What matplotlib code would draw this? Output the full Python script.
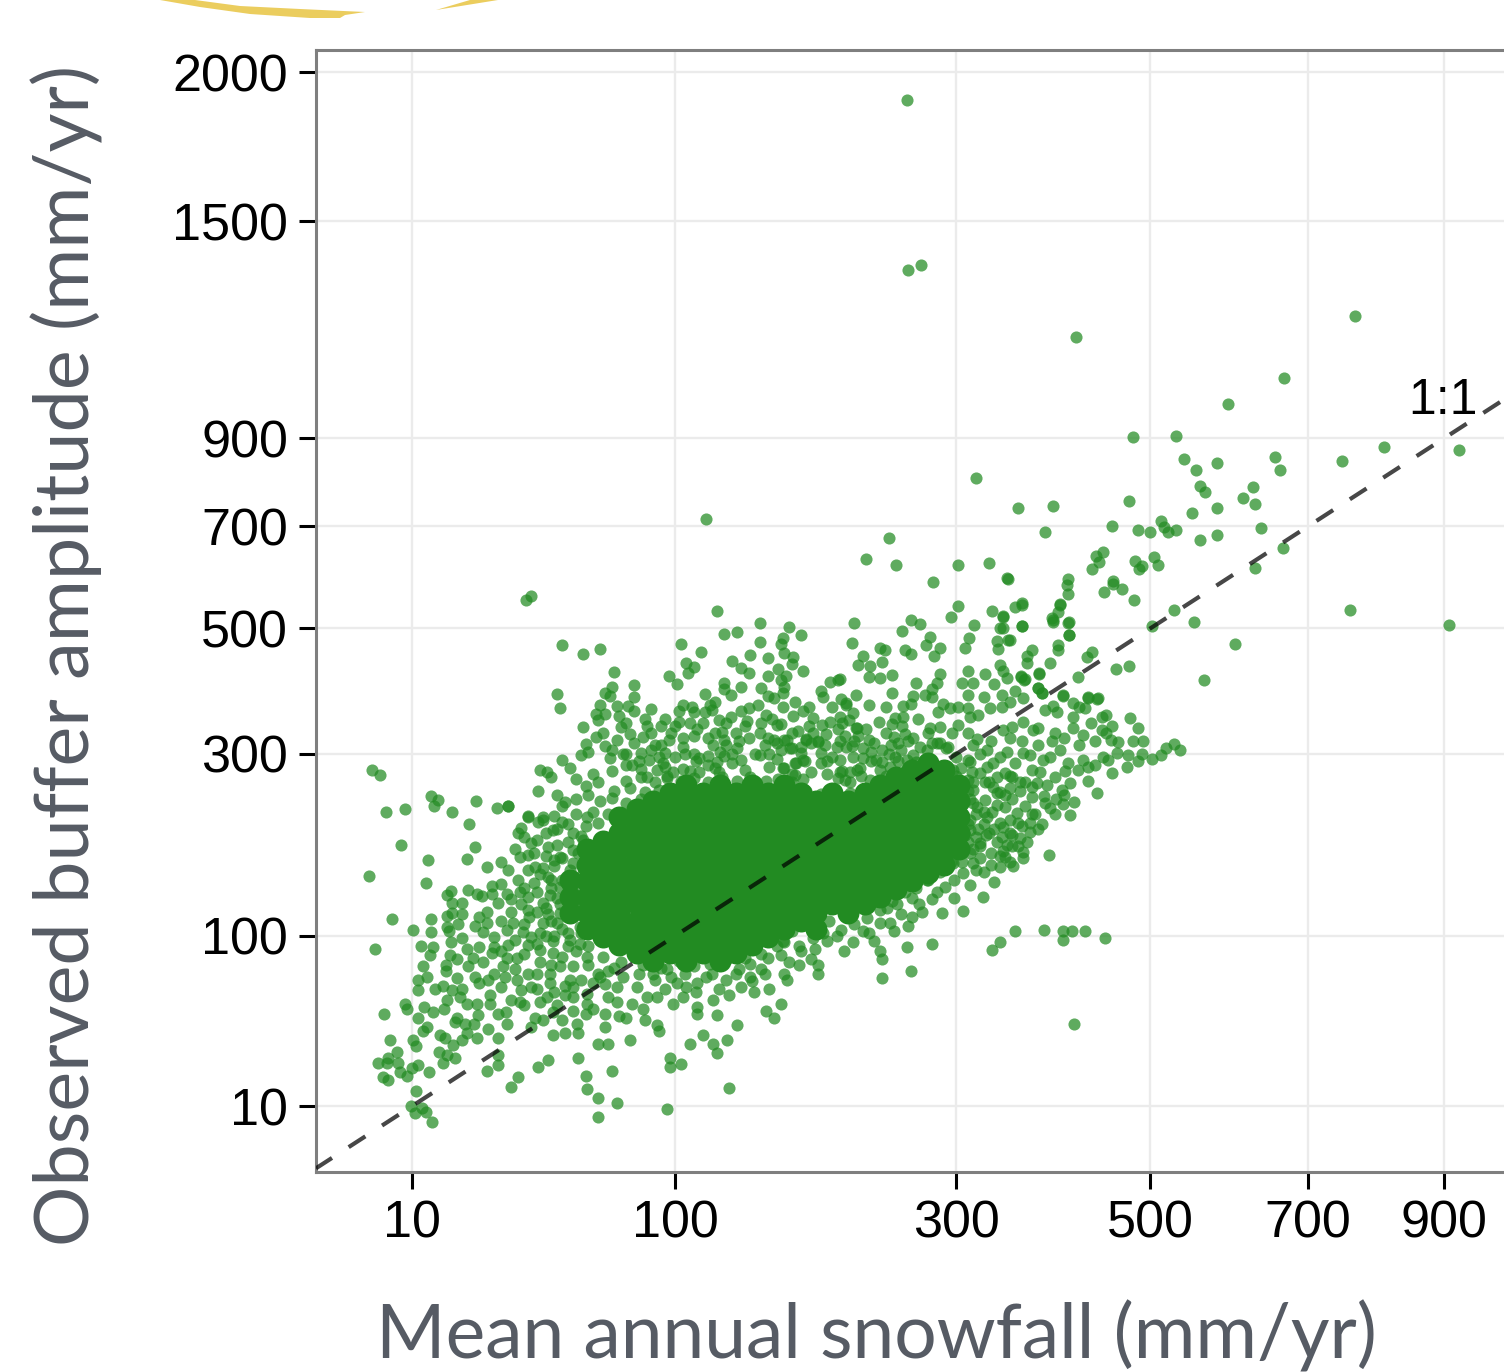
import matplotlib
matplotlib.use('Agg')
import matplotlib.pyplot as plt
import numpy as np
from matplotlib.patches import Polygon

# ticks
x_ticks = [10, 100, 300, 500, 700, 900]
y_ticks = [10, 100, 300, 500, 700, 900, 1500, 2000]

# scattered points: (snowfall, buffer amplitude)
upper_points = [
    (257, 1901), (258, 1352), (269, 1367), (417, 1161), (767, 1219), (667, 1052), (594, 985), (480, 903),
    (530, 905), (809, 879), (923, 872), (748, 847), (655, 855), (662, 825), (540, 851), (555, 825),
    (581, 841), (559, 789), (566, 775), (627, 786), (614, 762), (629, 749), (476, 755), (393, 744),
    (358, 740), (581, 740), (550, 729), (385, 688), (457, 701), (486, 693), (500, 688), (512, 712),
    (516, 699), (521, 688), (530, 693), (559, 672), (581, 682), (637, 697), (666, 655), (629, 615),
    (759, 534), (908, 506), (528, 534), (552, 512), (502, 504), (603, 472), (564, 412), (476, 435),
    (461, 430), (446, 647), (439, 638), (442, 626), (434, 612), (482, 629), (490, 618), (487, 612),
    (504, 636), (509, 620), (409, 593), (408, 581), (409, 564), (348, 593), (458, 589), (458, 583),
    (448, 568), (468, 574), (481, 552), (400, 545), (398, 530), (392, 519), (393, 512), (410, 512),
    (410, 488), (398, 471), (398, 462), (434, 458), (429, 450), (362, 547), (355, 539), (362, 504),
    (343, 521), (343, 501), (348, 480), (372, 462), (367, 452), (367, 440), (390, 440), (379, 421),
    (419, 417), (361, 417), (364, 412), (378, 399), (382, 391), (404, 386), (430, 385), (441, 383),
    (318, 807), (117, 716), (242, 676), (224, 632), (248, 620), (279, 587), (301, 620), (330, 624),
    (347, 594),
]

mid_points = [
    (39, 560), (37.6, 553), (123, 532), (149, 510), (168, 503), (215, 510), (127, 490), (135, 494),
    (50, 471), (58, 455), (65, 464), (103, 472), (114, 458), (176, 488), (149, 476), (164, 483),
    (163, 472), (213, 474), (165, 457), (143, 453), (132, 443), (154, 448), (171, 450), (170, 438),
    (178, 426), (106, 440), (110, 433), (107, 423), (137, 431), (142, 423), (161, 430), (154, 418),
    (166, 418), (163, 412), (71, 425), (97, 418), (101, 405), (127, 407), (137, 400), (127, 397),
    (131, 388), (116, 389), (80, 404), (70, 400), (80, 385), (67, 391), (69, 386), (48, 389),
    (49, 367), (77, 371), (72, 371), (65, 372), (63, 358), (67, 358), (73, 355), (64, 349),
    (58, 339), (63, 324), (66, 330), (59, 314), (57, 298), (67, 311), (70, 306), (69, 294),
    (78, 328), (84, 324), (83, 301), (90, 313), (93, 313), (95, 301), (98, 330), (93, 340),
    (102, 346), (108, 344), (104, 372), (109, 369), (110, 361), (116, 361), (120, 364), (119, 372),
    (122, 376), (124, 349), (131, 353), (137, 362), (142, 367), (141, 347), (126, 331), (127, 320),
    (134, 330), (121, 313), (135, 308), (153, 357), (157, 350), (163, 343), (164, 369), (172, 376),
    (171, 355), (178, 362), (182, 369), (185, 352), (164, 391), (154, 386), (150, 399), (165, 400),
    (190, 394), (192, 385), (197, 408), (204, 413), (205, 381), (209, 372), (216, 388), (211, 349),
    (191, 342), (197, 346), (203, 336), (204, 353), (216, 337), (180, 321), (188, 318), (183, 315),
    (204, 318), (213, 311), (154, 323), (160, 315), (165, 320), (170, 308), (173, 287), (179, 290),
    (190, 287), (165, 281), (172, 271), (178, 266), (206, 277), (203, 267), (212, 275), (113, 294),
    (118, 297), (127, 297), (123, 289), (132, 287), (124, 275), (113, 275), (104, 279), (99, 275),
    (96, 267), (91, 278), (86, 269), (79, 285), (76, 285), (70, 277), (62, 273), (64, 262),
    (59, 257), (55, 266), (53, 281), (50, 291), (42, 278), (44.5, 275), (46, 269), (41.5, 251),
    (48, 246), (51, 237), (32, 232), (38, 220), (43, 219), (149, 330), (158, 320), (167, 320),
    (180, 320), (188, 316), (169, 308), (190, 301), (178, 291), (202, 310), (209, 310), (214, 296),
    (226, 320), (237, 306), (237, 289), (235, 278), (204, 291), (172, 287), (164, 281), (204, 275),
    (217, 278), (227, 265), (212, 262),
]

left_points = [
    (4.5, 278), (5.4, 271), (6.2, 224), (8.9, 228), (13.4, 244), (14.7, 239), (13.9, 232), (17.6, 224),
    (23.3, 238), (28.8, 229), (32, 232), (21.6, 210), (23, 184), (8.3, 187), (12.8, 170), (21, 171),
    (26, 163), (4.2, 154), (12.4, 147), (7, 114), (4.8, 90), (10.2, 105), (13.4, 114), (13.4, 103),
    (11.5, 92), (13.8, 91), (13.2, 85), (17.4, 95), (17, 104), (16.6, 107), (16.6, 117), (17.6, 119),
    (20, 118), (20, 128), (17.6, 128), (16.6, 136), (17.4, 139), (21.3, 140), (23.5, 137), (24.8, 135),
    (27.5, 144), (27.5, 137), (30, 146), (31.7, 137), (35.6, 138), (38, 134), (40, 147), (35, 150),
    (32, 160), (30, 168), (35.6, 174), (38, 176), (40.5, 163), (43, 162), (45, 153), (49, 143),
    (45.6, 136), (43, 128), (38, 122), (38.5, 116), (36, 127), (35, 200), (36, 206), (38, 219),
    (41.5, 213), (43, 215), (50, 213), (46.6, 203), (41, 192), (39, 189), (45, 184), (48, 187),
    (55, 222), (59.5, 219), (54, 200), (49, 174), (54, 167), (52, 143), (48, 111), (52, 118),
    (56, 122), (59.5, 111), (43, 111), (33.5, 111), (31.7, 105), (36.6, 103), (39, 99), (42, 102),
    (28, 99), (25, 103), (24, 116), (26, 111), (26, 120), (28, 91), (32, 93), (38, 93),
    (31.7, 83), (34.7, 83), (30.6, 77), (27.5, 87), (24, 91), (22.6, 83), (21.3, 77), (25, 80),
    (23, 70), (26.4, 68), (27, 58), (27, 53), (30, 63), (31, 70), (34.7, 68), (33, 55),
    (35.6, 54), (36, 61), (39, 63), (41, 72), (45.6, 72), (44.5, 57), (45.6, 66), (53, 68),
    (54, 57), (59.5, 53), (54, 49), (59, 47), (50, 44), (55.5, 42), (43, 44), (40.5, 45),
    (39, 40), (46.6, 48), (46.6, 36), (51, 37), (56, 37), (64, 32), (68, 32), (78, 34),
    (67, 40), (67, 47), (73, 46), (76, 45), (79, 53), (84, 50), (85, 44), (91, 41),
    (92, 38), (99, 53), (104, 57), (112, 51), (112, 47), (121, 55), (123, 46.5), (135, 41),
    (115, 36), (108, 32), (121, 32), (129, 34), (123, 28), (97.5, 26), (103, 23.5), (97.5, 22.4),
    (130, 15), (96, 9.3), (56, 26), (70, 21), (59, 19), (59.5, 14.8), (64, 12.2), (72, 10.8),
    (64, 7.4), (45, 25), (41.5, 22.4), (35, 18.8), (33, 15.4), (29, 23), (29, 27), (26, 21),
    (29, 35), (26.4, 39), (23.5, 35), (20, 34), (21, 37), (22.8, 42), (23.8, 46.5), (23.5, 53),
    (21, 53), (18.8, 45), (18.3, 43), (20.6, 42), (29, 47), (31.5, 48), (31.7, 42), (20, 62),
    (19.5, 57), (17.6, 61), (15.8, 64), (18.8, 69), (16, 50), (16.6, 55), (14.1, 62), (11, 68),
    (11, 61), (12.6, 70), (11.9, 77), (16.4, 78), (16.4, 74), (17.2, 85), (18.8, 82), (8.9, 53),
    (9.2, 50), (5.9, 47), (6.7, 34), (12, 51), (11, 45), (13.8, 48), (12.6, 40), (11.9, 38),
    (10.2, 34), (10.7, 31), (15.1, 36), (16.2, 35), (17.9, 31.5), (15, 28.5), (16.6, 27), (18.3, 26),
    (15.8, 24), (7.7, 28.5), (6.4, 26), (5.2, 24), (6.3, 24), (7.8, 24), (10, 22), (11, 23),
    (13, 20.5), (8.1, 20.5), (9.2, 19), (5.8, 18.8), (6.4, 17.8), (10.7, 14.2), (9.8, 10), (11.7, 9.5),
    (10.5, 8.3), (12.4, 8.5), (13.6, 6.4), (54, 63), (59.5, 59), (64, 72), (68, 57), (72, 63),
    (81, 63), (89, 72), (96, 75), (106, 63), (117, 70), (134, 72), (86, 57), (91, 57),
    (56, 127), (49, 119), (56.7, 107), (52, 102), (46.6, 96), (42, 89), (46.6, 87), (52, 92),
    (56.7, 94), (59.5, 84), (54, 77), (49, 77), (54, 150), (56.7, 140), (58, 157), (54, 181),
    (58, 192),
]

right_points = [
    (253, 495), (260, 515), (268, 508), (295, 521), (301, 541), (316, 506), (333, 532), (343, 522),
    (362, 543), (400, 543), (393, 515), (409, 510), (362, 504), (340, 501), (410, 488), (311, 483),
    (308, 465), (338, 477), (350, 480), (339, 464), (277, 485), (273, 471), (285, 465), (280, 452),
    (235, 465), (239, 462), (255, 462), (260, 455), (222, 452), (237, 441), (218, 436), (227, 435),
    (245, 420), (226, 417), (235, 415), (203, 412), (265, 407), (245, 391), (285, 421), (283, 407),
    (278, 397), (272, 388), (278, 385), (262, 386), (254, 371), (260, 374), (209, 375), (214, 359),
    (217, 337), (234, 346), (254, 353), (247, 352), (245, 343), (253, 340), (255, 328), (246, 324),
    (250, 315), (288, 374), (294, 367), (301, 369), (284, 361), (310, 367), (320, 357), (312, 353),
    (277, 337), (285, 339), (301, 342), (296, 330), (310, 330), (319, 321), (275, 330), (278, 315),
    (285, 315), (292, 310), (305, 407), (315, 407), (326, 421), (335, 405), (310, 426), (310, 388),
    (325, 385), (342, 388), (331, 367), (342, 369), (350, 376), (340, 436), (343, 426), (347, 415),
    (361, 418), (365, 413), (379, 423), (355, 394), (363, 383), (378, 399), (382, 391), (404, 388),
    (414, 375), (430, 383), (440, 381), (393, 371), (385, 364), (397, 361), (421, 369), (427, 367),
    (414, 353), (343, 334), (352, 339), (363, 346), (373, 334), (378, 337), (395, 330), (414, 337),
    (425, 327), (433, 345), (445, 353), (450, 357), (457, 340), (445, 334), (450, 330), (455, 320),
    (463, 316), (477, 352), (486, 337), (480, 318), (492, 318), (446, 296), (462, 301), (474, 298),
    (490, 300), (486, 290), (473, 282), (502, 293), (513, 298), (519, 308), (528, 314), (535, 306),
    (457, 274), (430, 282), (430, 263), (440, 248), (411, 221), (415, 237), (404, 234), (390, 229),
    (411, 261), (403, 252), (387, 258), (377, 261), (372, 243), (390, 296), (400, 306), (409, 287),
    (419, 278), (383, 291), (347, 302), (363, 301), (370, 298), (334, 287), (345, 274), (355, 287),
    (372, 278), (315, 313), (328, 306), (312, 289), (322, 274), (334, 256), (340, 249), (350, 254),
    (315, 252), (326, 239), (338, 233), (319, 231), (328, 219), (357, 223), (350, 215), (343, 207),
    (370, 211), (382, 210), (370, 201), (360, 194), (347, 187), (338, 190), (322, 189), (312, 203),
    (303, 200), (363, 179), (345, 174), (389, 176), (340, 163), (353, 164), (363, 172), (335, 148),
    (324, 134), (306, 157), (315, 167), (297, 167), (285, 167), (283, 138), (298, 133), (306, 121),
    (287, 119), (272, 158), (274, 150), (265, 150), (261, 133), (267, 127), (261, 116), (249, 127),
    (241, 124), (243, 111), (246, 104), (235, 111), (226, 102), (214, 95), (207, 88), (235, 88),
    (237, 82), (257, 91), (278, 94), (260, 74), (237, 69), (333, 89), (340, 95), (355, 104),
    (384, 105), (404, 104), (413, 104), (404, 97), (427, 104), (449, 98), (415, 42), (188, 72),
    (188, 78), (167, 68), (143, 70), (137, 63), (163, 53), (153, 49), (158, 45), (168, 80),
    (176, 88), (186, 90), (163, 85), (154, 83), (150, 75), (143, 79), (202, 100), (192, 102),
    (164, 96), (249, 269), (257, 291), (262, 298), (274, 306), (283, 315), (291, 308), (300, 296),
    (297, 278), (310, 291), (315, 262),
]

# crowded band around the solid middle
fringe_points = [
    (76, 264), (83, 268), (90, 262), (96, 270), (103, 263), (110, 267), (118, 262), (126, 269),
    (135, 264), (143, 268), (153, 263), (161, 266), (170, 262), (71, 250), (78, 254), (85, 249),
    (92, 252), (99, 248), (107, 254), (113, 250), (122, 253), (131, 248), (140, 252), (149, 249),
    (158, 253), (169, 248), (180, 251), (190, 247), (201, 252), (212, 248), (223, 250), (65, 238),
    (70, 242), (76, 236), (83, 240), (89, 235), (176, 238), (187, 241), (198, 237), (210, 240),
    (223, 236), (83, 279), (95, 282), (108, 277), (122, 280), (140, 278), (155, 282), (219, 280),
    (243, 282), (255, 276), (87, 292), (100, 296), (111, 290), (125, 303), (137, 292), (149, 298),
    (160, 293), (176, 301), (195, 290), (222, 294), (247, 296), (265, 289), (62, 225), (68, 222),
    (59, 208), (64, 212), (57, 196), (52, 190), (56, 178), (50, 172), (53, 160), (47, 164),
    (50, 150), (46, 142), (48, 133), (44, 124), (49, 127), (46, 112), (50, 106), (47, 100),
    (53, 97), (57, 102), (55, 88), (60, 92), (60, 78), (66, 84), (65, 70), (71, 76),
    (68, 74), (75, 70), (82, 72), (90, 68), (98, 70), (105, 72), (112, 66), (120, 72),
    (128, 68), (136, 75), (144, 67), (152, 72), (74, 80), (84, 78), (93, 76), (102, 81),
    (110, 77), (119, 79), (129, 82), (140, 83), (150, 86), (160, 92), (155, 100), (165, 95),
    (175, 92), (185, 98), (195, 96), (205, 105), (215, 110), (225, 115), (235, 122), (245, 130),
    (255, 138), (265, 142), (275, 150), (285, 158), (295, 168), (303, 178), (310, 190), (170, 104),
    (182, 108), (196, 112), (210, 118), (222, 124), (232, 130), (244, 142), (257, 150), (270, 162),
    (282, 172), (292, 178), (260, 275), (270, 283), (280, 285), (290, 280), (300, 270), (310, 250),
    (315, 235), (312, 215), (308, 198), (320, 205), (325, 225), (306, 240), (300, 255), (283, 272),
    (295, 262), (268, 268), (278, 262), (290, 250), (298, 235), (305, 222), (297, 212), (303, 205),
]

# thinner clouds to both sides of the middle and above it
sparse_fill_points = [
    (29, 128), (33, 132), (37, 142), (41, 138), (46, 150), (42, 156), (38, 160), (34, 182),
    (44, 175), (47, 170), (40, 178), (37, 195), (44, 200), (48, 205), (52, 210), (47, 220),
    (50, 232), (55, 240), (60, 245), (33, 120), (37, 110), (41, 120), (45, 118), (30, 112),
    (34, 97), (41, 94), (44, 100), (37, 86), (42, 80), (46, 78), (50, 84), (34, 75),
    (38, 72), (28, 72), (24, 66), (21, 90), (20, 98), (23, 108), (19, 110), (30, 88),
    (41, 62), (47, 60), (51, 64), (57, 68), (62, 66), (67, 65), (37, 52), (42, 54),
    (48, 52), (51, 58), (62, 50), (72, 54), (95, 62), (101, 66), (111, 60), (124, 62),
    (130, 58), (145, 60), (155, 62), (165, 72), (175, 78), (183, 82), (76, 300), (82, 290),
    (88, 306), (94, 288), (104, 310), (110, 300), (118, 322), (128, 312), (142, 322), (152, 312),
    (160, 342), (174, 332), (182, 340), (194, 328), (206, 345), (218, 325), (228, 302), (232, 292),
    (242, 300), (252, 306), (224, 335), (240, 330), (262, 322), (268, 310), (258, 280), (228, 290),
    (104, 322), (112, 335), (86, 340), (74, 338), (60, 302), (72, 320), (148, 372), (158, 382),
    (198, 368), (226, 372), (240, 368), (266, 350), (322, 300), (332, 318), (350, 322), (362, 318),
    (378, 312), (392, 318), (405, 322), (420, 312), (438, 318), (328, 282), (340, 296), (352, 268),
    (365, 262), (380, 275), (395, 268), (406, 276), (425, 292), (438, 285), (452, 292), (330, 262),
    (345, 245), (360, 250), (372, 255), (384, 244), (396, 240), (405, 246), (330, 200), (340, 212),
    (352, 198), (362, 208), (375, 222), (385, 235), (395, 222), (322, 172), (332, 178), (343, 180),
    (352, 185), (315, 182), (325, 158), (312, 145), (298, 150), (290, 143), (278, 132), (270, 120),
    (252, 118), (258, 108), (222, 104), (230, 96),
    (305, 250), (312, 240), (318, 222), (325, 210), (333, 225), (338, 248), (345, 230), (352, 240),
    (358, 212), (365, 232), (372, 222), (378, 205), (310, 210), (318, 195), (327, 198), (335, 205),
    (342, 195), (350, 200), (358, 185), (367, 190), (312, 178), (322, 185), (332, 165), (340, 175),
    (350, 168), (305, 168), (318, 160), (300, 188), (296, 180), (360, 262), (350, 270), (338, 268),
    (326, 262), (314, 275), (304, 280), (310, 265), (75, 300), (80, 315), (85, 350), (88, 330),
    (92, 295), (97, 320), (100, 340), (105, 300), (110, 325), (115, 345), (118, 285), (122, 330),
    (128, 345), (132, 300), (136, 318), (140, 340), (146, 300), (150, 345), (95, 350), (102, 362),
    (88, 365), (76, 345), (80, 362), (155, 300), (163, 305), (170, 330), (176, 310), (185, 330),
    (193, 312), (198, 295), (208, 325), (215, 318), (222, 308), (230, 315), (244, 312), (250, 290),
    (258, 318), (170, 272), (183, 275), (195, 272), (208, 265), (220, 270), (240, 270), (252, 260),
]

# dense middle of the cloud, where the points merge into solid green
core_points = [
    (53, 150), (53, 134), (53, 119),
    (59.5, 182), (59.5, 165), (59.5, 149), (59.5, 134), (59.5, 119), (59.5, 106),
    (66, 191), (66, 174), (66, 157), (66, 141), (66, 127), (66, 112), (66, 99),
    (73, 219), (73, 200), (73, 182), (73, 165), (73, 149), (73, 134), (73, 119), (73, 106), (73, 93),
    (81, 228), (81, 209), (81, 191), (81, 174), (81, 157), (81, 141), (81, 127), (81, 112), (81, 99), (81, 87),
    (89, 238), (89, 219), (89, 200), (89, 182), (89, 165), (89, 149), (89, 134), (89, 119), (89, 106), (89, 93), (89, 81),
    (97.5, 248), (97.5, 228), (97.5, 209), (97.5, 191), (97.5, 174), (97.5, 157), (97.5, 141), (97.5, 127), (97.5, 112), (97.5, 99), (97.5, 87),
    (106, 258), (106, 238), (106, 219), (106, 200), (106, 182), (106, 165), (106, 149), (106, 134), (106, 119), (106, 106), (106, 93), (106, 81),
    (115, 248), (115, 228), (115, 209), (115, 191), (115, 174), (115, 157), (115, 141), (115, 127), (115, 112), (115, 99), (115, 87),
    (125, 258), (125, 238), (125, 219), (125, 200), (125, 182), (125, 165), (125, 149), (125, 134), (125, 119), (125, 106), (125, 93), (125, 81),
    (134, 248), (134, 228), (134, 209), (134, 191), (134, 174), (134, 157), (134, 141), (134, 127), (134, 112), (134, 99), (134, 87),
    (144, 258), (144, 238), (144, 219), (144, 200), (144, 182), (144, 165), (144, 149), (144, 134), (144, 119), (144, 106), (144, 93),
    (154, 248), (154, 228), (154, 209), (154, 191), (154, 174), (154, 157), (154, 141), (154, 127), (154, 112), (154, 99),
    (165, 258), (165, 238), (165, 219), (165, 200), (165, 182), (165, 165), (165, 149), (165, 134), (165, 119), (165, 106),
    (176, 248), (176, 228), (176, 209), (176, 191), (176, 174), (176, 157), (176, 141), (176, 127), (176, 112),
    (187, 238), (187, 219), (187, 200), (187, 182), (187, 165), (187, 149), (187, 134), (187, 119), (187, 106),
    (198, 248), (198, 228), (198, 209), (198, 191), (198, 174), (198, 157), (198, 141), (198, 127),
    (210, 238), (210, 219), (210, 200), (210, 182), (210, 165), (210, 149), (210, 134), (210, 119),
    (223, 248), (223, 228), (223, 209), (223, 191), (223, 174), (223, 157), (223, 141), (223, 127),
    (235, 258), (235, 238), (235, 219), (235, 200), (235, 182), (235, 165), (235, 149), (235, 134),
    (248, 269), (248, 248), (248, 228), (248, 209), (248, 191), (248, 174), (248, 157), (248, 141),
    (261, 278), (261, 258), (261, 238), (261, 219), (261, 200), (261, 182), (261, 165), (261, 149),
    (275, 288), (275, 269), (275, 248), (275, 228), (275, 209), (275, 191), (275, 174), (275, 157),
    (289, 278), (289, 258), (289, 238), (289, 219), (289, 200), (289, 182), (289, 165),
    (302, 258), (302, 238), (302, 219), (302, 200), (302, 182),
]

line_ends = [0.44, 2000]

green = '#228B22'
label_gray = '#565b64'

W, H = 1504, 1372
fig = plt.figure(figsize=(W / 100, H / 100), dpi=100)
ax = fig.add_axes([316 / W, (H - 1172) / H, (W - 316) / W, 1122 / H])

ax.set_xscale('function', functions=(np.sqrt, np.square))
ax.set_yscale('function', functions=(np.sqrt, np.square))

loose = upper_points + mid_points + left_points + right_points + fringe_points + sparse_fill_points
loose_x, loose_y = zip(*loose)
core_x, core_y = zip(*core_points)

ax.scatter(core_x, core_y, s=251, color=green, linewidths=0, zorder=3)
ax.scatter(loose_x, loose_y, s=76, color=green, alpha=0.72, linewidths=0, zorder=4)
ax.plot(line_ends, line_ends, color='black', alpha=0.72, lw=3, ls=(0.2, (4.77, 4.77)), zorder=5)

ax.set_xlim(0.44, 996)
ax.set_ylim(0.264, 2080)
ax.set_xticks(x_ticks, [str(t) for t in x_ticks])
ax.set_yticks(y_ticks, [str(t) for t in y_ticks])
ax.minorticks_off()
ax.tick_params(length=12, width=2.2, color='black', labelsize=37.5, pad=8, labelcolor='black')
for lab in ax.get_xticklabels() + ax.get_yticklabels():
    lab.set_fontfamily('Liberation Sans')

ax.grid(True, color='#ebebeb', lw=1.7, zorder=0)
ax.set_axisbelow(True)
for side in ['left', 'top', 'bottom']:
    ax.spines[side].set_color('#7f7f7f')
    ax.spines[side].set_linewidth(2.2)
ax.spines['right'].set_visible(False)

ax.text(1443 / W, (H - 401) / H, '1:1', transform=fig.transFigure, family='Liberation Sans',
        fontsize=36, ha='center', va='center', color='black', zorder=6)

fig.text(67 / W, (H - 655) / H, 'Observed buffer amplitude (mm/yr)', rotation=90, family='Lato',
         fontsize=54.4, color=label_gray, ha='center', va='center')
fig.text(876 / W, (H - 1336) / H, 'Mean annual snowfall (mm/yr)', family='Lato',
         fontsize=54, color=label_gray, ha='center', va='center')

# bit of the yellow brush stroke cut off at the top
px = lambda pts: [(a / W, (H - b) / H) for a, b in pts]
fig.add_artist(Polygon(px([(160, 0), (195, 0), (240, 6), (300, 9), (365, 12), (345, 15), (340, 18),
                           (310, 18), (250, 14), (200, 7)]), closed=True, transform=fig.transFigure,
                       facecolor='#ebcd5e', edgecolor='none'))
fig.add_artist(Polygon(px([(436, 10), (498, 0), (470, 0)]), closed=True, transform=fig.transFigure,
                       facecolor='#ebcd5e', edgecolor='none'))

fig.savefig('out.png', dpi=100)
